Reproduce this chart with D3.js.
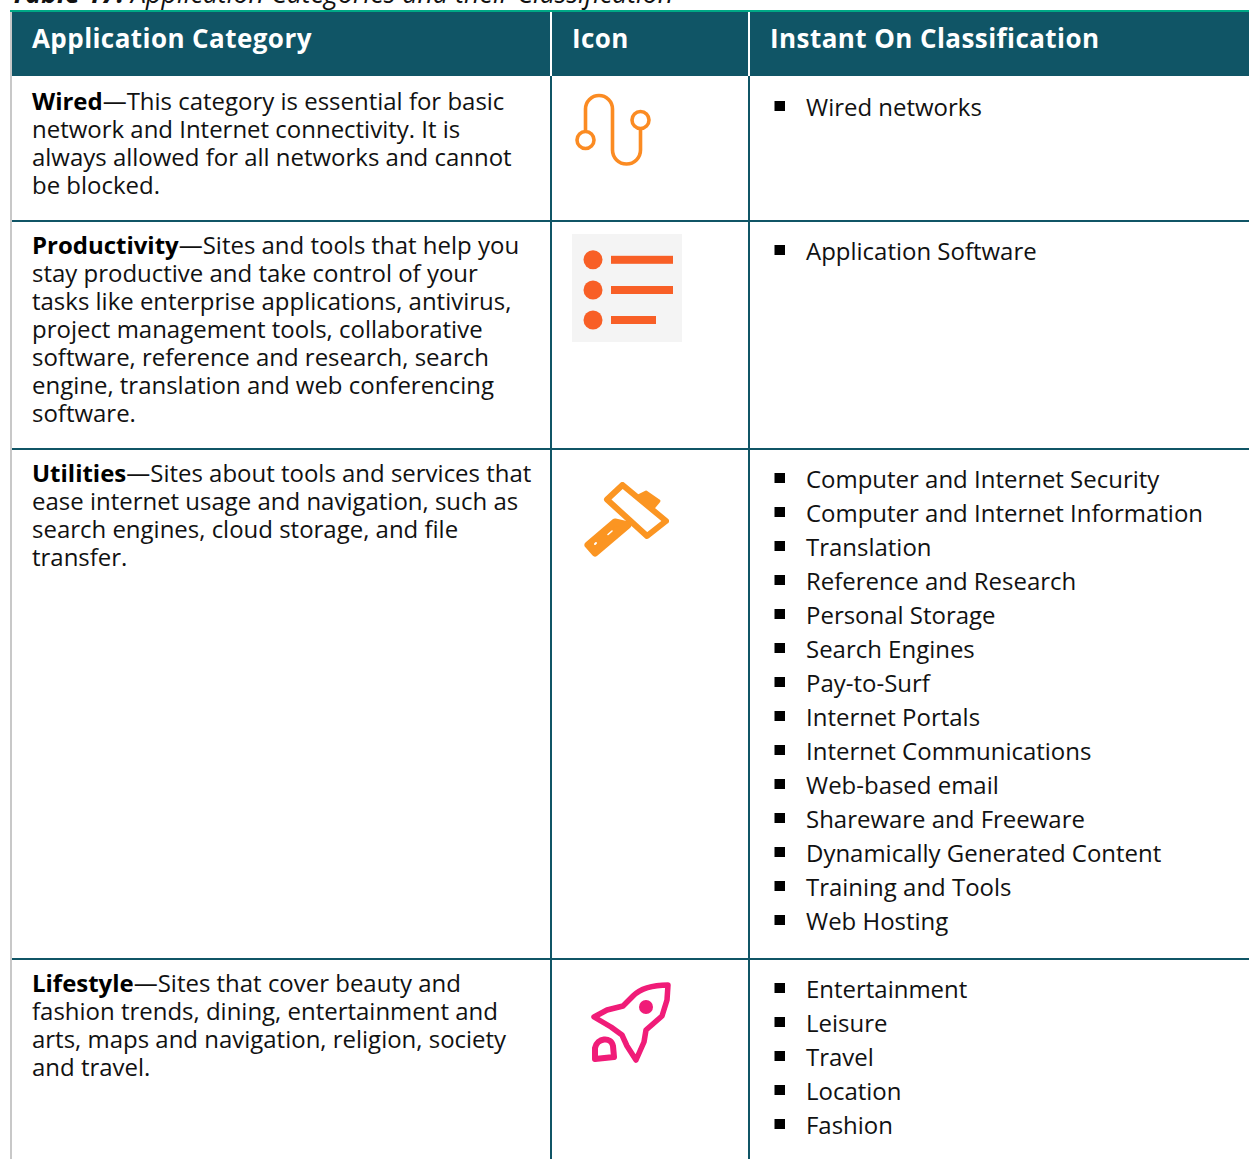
<!DOCTYPE html>
<html>
<head>
<meta charset="utf-8">
<script src="https://cdn.jsdelivr.net/npm/d3@7"></script>
<style>
  html, body { margin: 0; padding: 0; background: #fff; overflow: hidden; }
  svg { display: block; }
  text { font-family: "Open Sans", sans-serif; }
</style>
</head>
<body>
<div id="container"></div>
<script>
const titleBold = "Table 17:";
const titleItalic = " Application Categories and their Classification";
const headers = ["Application Category", "Icon", "Instant On Classification"];
const categories = ["Wired", "Productivity", "Utilities", "Lifestyle"];
const descriptions = [
  ["—This category is essential for basic", "network and Internet connectivity. It is", "always allowed for all networks and cannot", "be blocked."],
  ["—Sites and tools that help you", "stay productive and take control of your", "tasks like enterprise applications, antivirus,", "project management tools, collaborative", "software, reference and research, search", "engine, translation and web conferencing", "software."],
  ["—Sites about tools and services that", "ease internet usage and navigation, such as", "search engines, cloud storage, and file", "transfer."],
  ["—Sites that cover beauty and", "fashion trends, dining, entertainment and", "arts, maps and navigation, religion, society", "and travel."]
];
const classifications = [
  ["Wired networks"],
  ["Application Software"],
  ["Computer and Internet Security", "Computer and Internet Information", "Translation", "Reference and Research", "Personal Storage", "Search Engines", "Pay-to-Surf", "Internet Portals", "Internet Communications", "Web-based email", "Shareware and Freeware", "Dynamically Generated Content", "Training and Tools", "Web Hosting"],
  ["Entertainment", "Leisure", "Travel", "Location", "Fashion"]
];

const w = 1249;
const h = 1159;
const teal = "#105566";
const headerTop = 12;
const headerBottom = 76;
const rowLines = [221, 449, 959];
const rowTops = [76, 220, 448, 958];
const listTops = [116, 260, 488, 998];
const colEdges = [11, 551, 749, w];
const textPad = 21;
const lineHeight = 28;
const bulletStep = 34;
const fontSize = 23.98;

const svg = d3.select("#container").append("svg").attr("width", w).attr("height", h);

// the raster icons in the source are slightly soft
svg.append("defs").append("filter").attr("id", "soft")
  .append("feGaussianBlur").attr("stdDeviation", 0.45);

svg.append("text").attr("x", 11).attr("y", 3).attr("font-size", 26.8).attr("fill", "#111")
  .call(t => t.append("tspan").attr("font-weight", 700).attr("font-style", "italic").text(titleBold))
  .call(t => t.append("tspan").attr("font-style", "italic").text(titleItalic));

// header
svg.append("rect").attr("x", colEdges[0] + 1).attr("y", headerTop).attr("width", w - colEdges[0])
  .attr("height", headerBottom - headerTop).attr("fill", teal);
svg.append("rect").attr("x", 10).attr("y", headerTop - 2).attr("width", w - 10)
  .attr("height", 2).attr("fill", "#00a886");
svg.selectAll("text.head").data(headers).enter().append("text").attr("class", "head")
  .attr("x", (d, i) => colEdges[i] + textPad)
  .attr("y", 48).attr("font-size", 26).attr("font-weight", 700)
  .attr("letter-spacing", 0.43).attr("fill", "#fff").text(d => d);

// grid lines
svg.append("line").attr("x1", 11).attr("x2", 11).attr("y1", headerTop).attr("y2", h)
  .attr("stroke", "#c8c8c8").attr("stroke-width", 2);
svg.selectAll("line.col").data(colEdges.slice(1, 3)).enter().append("line").attr("class", "col")
  .attr("x1", d => d).attr("x2", d => d).attr("y1", headerBottom).attr("y2", h)
  .attr("stroke", teal).attr("stroke-width", 2);
svg.selectAll("line.colHead").data(colEdges.slice(1, 3)).enter().append("line").attr("class", "colHead")
  .attr("x1", d => d).attr("x2", d => d).attr("y1", headerTop).attr("y2", headerBottom)
  .attr("stroke", "#fff").attr("stroke-width", 2);
svg.selectAll("line.row").data(rowLines).enter().append("line").attr("class", "row")
  .attr("x1", colEdges[0] + 1).attr("x2", w).attr("y1", d => d).attr("y2", d => d)
  .attr("stroke", teal).attr("stroke-width", 2);

// first column and third column
categories.forEach(function(d, i) {
  const t = svg.append("g").selectAll("text").data(descriptions[i]).enter().append("text")
    .attr("x", colEdges[0] + textPad)
    .attr("y", (l, j) => rowTops[i] + 34 + j * lineHeight)
    .attr("font-size", fontSize).attr("fill", "#111");
  t.each(function(l, j) {
    const line = d3.select(this);
    if (j === 0) line.append("tspan").attr("font-weight", 700).attr("fill", "#000").text(d);
    line.append("tspan").text(l);
  });

  const items = svg.append("g").selectAll("g").data(classifications[i]).enter().append("g")
    .attr("transform", (l, j) => "translate(0," + (listTops[i] + j * bulletStep) + ")");
  items.append("rect").attr("x", 774.5).attr("y", -15).attr("width", 10.5).attr("height", 10).attr("fill", "#000");
  items.append("text").attr("x", 806).attr("y", 0).attr("font-size", fontSize).attr("fill", "#111").text(l => l);
});

// icons
const icons = svg.append("g").attr("fill", "none").attr("stroke-linecap", "round")
  .attr("stroke-linejoin", "round").attr("filter", "url(#soft)");

const wired = icons.append("g").attr("transform", "translate(550,80)").attr("stroke", "#fb8b24").attr("stroke-width", 3.6);
wired.append("path").attr("d", "M35.5,50 V29 A13.5,13.5 0 0 1 62.5,29 V70 A14,14 0 0 0 90.5,70 V49");
wired.append("circle").attr("cx", 35.5).attr("cy", 60).attr("r", 8.5);
wired.append("circle").attr("cx", 90.5).attr("cy", 40).attr("r", 8.5);

const prod = svg.append("g").attr("transform", "translate(572,234)");
prod.append("rect").attr("width", 110).attr("height", 108).attr("fill", "#f4f4f4");
const listY = [25.8, 56, 86];
const listLen = [62, 62, 45];
prod.selectAll("circle").data(listY).enter().append("circle").attr("filter", "url(#soft)")
  .attr("cx", 21).attr("cy", d => d).attr("r", 9.5).attr("fill", "#f85f26");
prod.selectAll("rect.bar").data(listY).enter().append("rect").attr("class", "bar").attr("filter", "url(#soft)")
  .attr("x", 39).attr("y", d => d - 4).attr("width", (d, i) => listLen[i]).attr("height", 8).attr("fill", "#f85f26");

const brush = icons.append("g").attr("transform", "translate(570,470)").attr("stroke", "#fb9522").attr("stroke-width", 6);
brush.append("path").attr("d", "M37,29.5 L52.5,15 L96,51 L77,66 Z");
brush.append("path").attr("d", "M68,26 L76,22 L89,31 L84,37 Z").attr("fill", "#fb9522").attr("stroke-width", 3);
brush.append("path").attr("d", "M45,52 L18,75 L25,83 L58,55 Z").attr("fill", "#fb9522").attr("stroke-width", 7);
brush.append("path").attr("d", "M38,64.5 L42,61").attr("stroke", "#fff").attr("stroke-width", 1.6);
brush.append("path").attr("d", "M25,74 L26,73").attr("stroke", "#fff").attr("stroke-width", 2);

const rocket = icons.append("g").attr("transform", "translate(575,970)").attr("stroke", "#f01a78").attr("stroke-width", 5.5);
rocket.append("path").attr("d", "M93,15 C78,15 66,18 58,26 L48,36 L32,40 L19,47 L36,57 L47,65 L52,76 L61,90 L69,72 L71,60 L87,46 L92,30 Z");
rocket.append("circle").attr("cx", 71).attr("cy", 37).attr("r", 7).attr("fill", "#f01a78").attr("stroke", "none");
rocket.append("path").attr("d", "M20,89 L20,78 C22,68 36,66 38,76 L39,87 Z").attr("stroke-width", 6);
</script>
</body>
</html>
